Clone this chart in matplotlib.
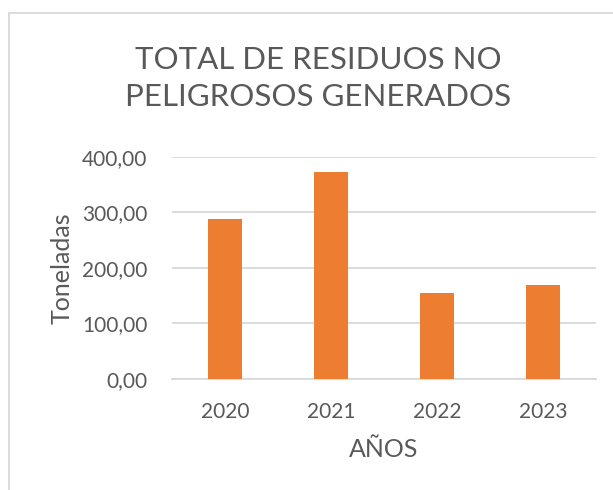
import matplotlib
matplotlib.use('Agg')
import matplotlib.pyplot as plt
from matplotlib.ticker import FuncFormatter, MultipleLocator
from matplotlib.lines import Line2D

years = ['2020', '2021', '2022', '2023']
toneladas = [287.6, 372.5, 154.5, 168.9]

orange = '#ED7D31'
text_gray = '#595959'
grid_gray = '#D9D9D9'

plt.rcParams['font.family'] = ['Lato', 'DejaVu Sans']

W, H = 613, 490
fig = plt.figure(figsize=(W / 100, H / 100), dpi=100)
ax = fig.add_axes([172.3 / W, 1 - 378.7 / H, 423.4 / W, 222 / H])

x = range(len(years))
ax.bar(x, toneladas, width=0.318, color=orange, zorder=3)

ax.set_xlim(-0.5, len(years) - 0.5)
ax.set_ylim(0, 400)
ax.yaxis.set_major_locator(MultipleLocator(100))
ax.yaxis.set_major_formatter(FuncFormatter(lambda v, p: '{:.2f}'.format(v).replace('.', ',')))
ax.set_xticks(list(x))
ax.set_xticklabels(years)

ax.grid(axis='y', color=grid_gray, linewidth=1.3, zorder=0)
for s in ['top', 'right', 'left']:
    ax.spines[s].set_visible(False)
ax.spines['bottom'].set_color(grid_gray)
ax.spines['bottom'].set_linewidth(1.3)
ax.tick_params(length=0, labelsize=15, colors=text_gray)
ax.tick_params(axis='y', pad=18)
ax.tick_params(axis='x', pad=17)

ax.set_ylabel('Toneladas', fontsize=18, color=text_gray, labelpad=6)
ax.set_xlabel('AÑOS', fontsize=18, color=text_gray, labelpad=11)

# title, two lines
fig.text(318 / W, 1 - 69 / H, 'TOTAL DE RESIDUOS NO', ha='center', va='baseline',
         fontsize=22.5, color=text_gray)
fig.text(318 / W, 1 - 106 / H, 'PELIGROSOS GENERADOS', ha='center', va='baseline',
         fontsize=22.5, color=text_gray)

# chart frame
fig.add_artist(Line2D([9 / W, 1], [1 - 12.7 / H, 1 - 12.7 / H], color=grid_gray, linewidth=1.3))
fig.add_artist(Line2D([9 / W, 9 / W], [0, 1 - 12.7 / H], color=grid_gray, linewidth=1.3))

fig.savefig('out.png', dpi=100)
